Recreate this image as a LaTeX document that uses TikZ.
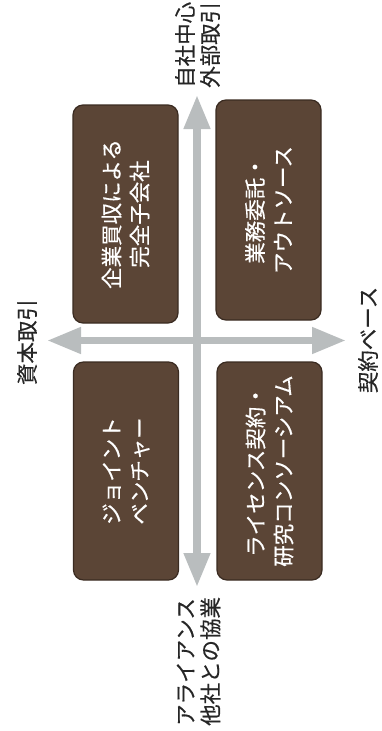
\documentclass[tikz,border=0pt]{standalone}
\usepackage{fontspec}
\setmainfont{Noto Sans CJK JP}[FakeBold=0.4]
\usetikzlibrary{arrows.meta}
\definecolor{boxfill}{HTML}{5B4536}
\definecolor{boxline}{HTML}{3A2B21}
\definecolor{arrowgray}{HTML}{B9BDBE}
\tikzset{
  quad/.style={draw=boxline, line width=1.2pt, fill=boxfill, rounded corners=10pt,
    rotate=90, minimum width=218pt, minimum height=105pt, inner sep=0pt,
    text=white, align=center, font=\fontsize{21.5}{28}\selectfont},
  axislabel/.style={rotate=90, inner sep=0pt, align=left, text=black!85,
    font=\fontsize{21.5}{25}\selectfont},
  axisarrow/.style={draw=arrowgray, line width=7.5pt,
    {Triangle[length=34pt,width=25pt]}-{Triangle[length=34pt,width=25pt]}}
}
\begin{document}
\begin{tikzpicture}[x=1pt,y=-1pt]
\useasboundingbox (0,0) rectangle (381,731);
% arrow ends
\coordinate (vtop) at (197,95);
\coordinate (vbot) at (197,587);
\coordinate (hleft) at (47,340.5);
\coordinate (hright) at (346,340.5);
\draw[axisarrow] (vtop) -- (vbot);
\draw[axisarrow] (hleft) -- (hright);
% boxes
\node[quad] (tl) at (125.5,214) {企業買収による\\完全子会社};
\node[quad, minimum width=220pt] (tr) at (268.5,210) {業務委託・\\アウトソース};
\node[quad] (bl) at (126,471) {ジョイント\\ベンチャー};
\node[quad] (br) at (269.5,471) {ライセンス契約・\\研究コンソーシアム};
% axis labels
\node[axislabel, anchor=west] (ltop) at (197.5,88) {自社中心\\外部取引};
\node[axislabel, anchor=west] (lbot) at (198.5,726) {アライアンス\\他社との協業};
\node[axislabel] (lleft) at (27,342) {資本取引};
\node[axislabel] (lright) at (368,340) {契約ベース};
\end{tikzpicture}
\end{document}
